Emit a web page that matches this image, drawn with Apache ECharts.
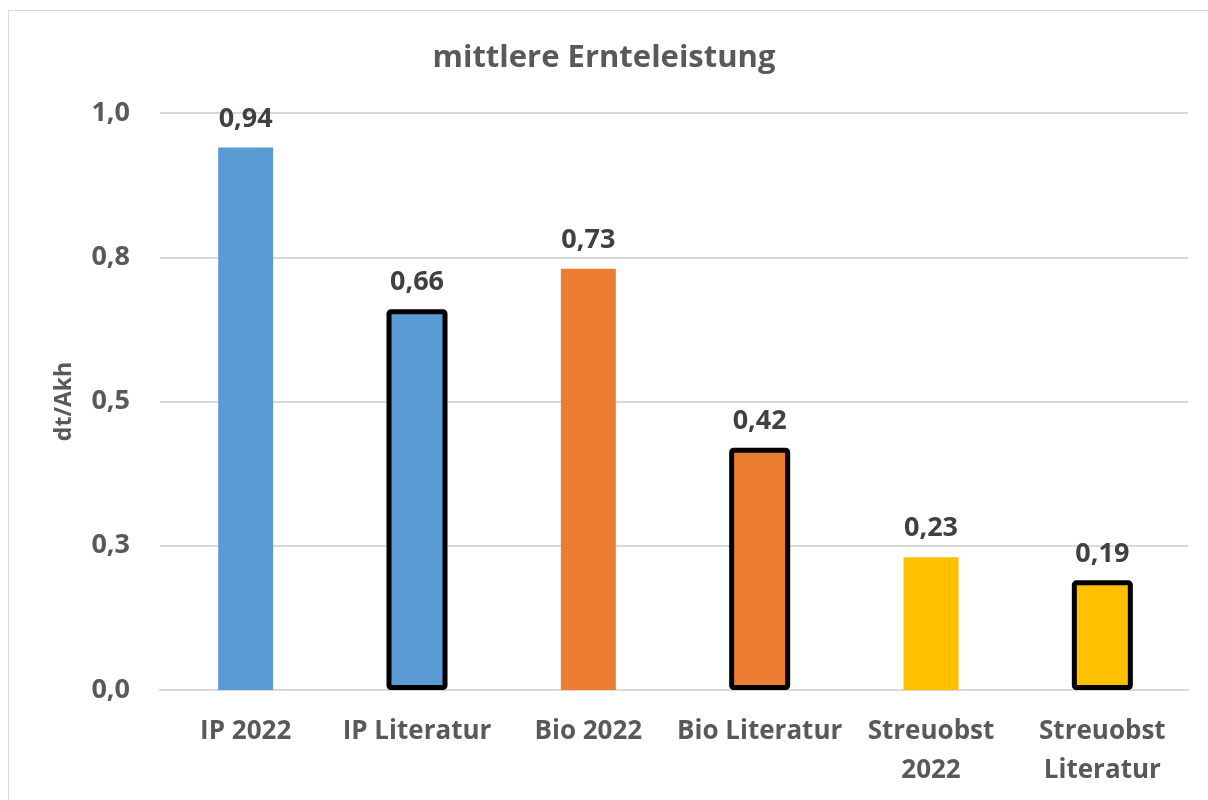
<!DOCTYPE html>
<html>
<head>
<meta charset="utf-8">
<script src="https://cdn.jsdelivr.net/npm/echarts@6/dist/echarts.min.js"></script>
<style>
  html, body { margin: 0; padding: 0; background: #fff; }
  #chart { width: 1208px; height: 800px; }
  #frame { position: absolute; left: 8px; top: 10px; width: 1220px; height: 820px; border: 1px solid #d9d9d9; pointer-events: none; }
</style>
</head>
<body>
<div id="frame"></div>
<div id="chart"></div>
<script>
// Daten
const categories = ['IP 2022', 'IP Literatur', 'Bio 2022', 'Bio Literatur', 'Streuobst\n2022', 'Streuobst\nLiteratur']
const values = [0.94, 0.66, 0.73, 0.42, 0.23, 0.19]
const barColors = ['#5b9bd5', '#5b9bd5', '#ed7d31', '#ed7d31', '#ffc000', '#ffc000']
const outlined = [false, true, false, true, false, true]

const font = '"Open Sans", "Liberation Sans", sans-serif'
const comma = v => String(v).replace('.', ',')

const chart = echarts.init(document.getElementById('chart'))

// gefüllte Balken ohne Rahmen / Literatur-Balken mit schwarzem Rahmen
const plainData = values.map((v, i) => outlined[i] ? '-' : { value: v, itemStyle: { color: barColors[i] } })
const frameData = values.map((v, i) => outlined[i] ? { value: v, itemStyle: { color: barColors[i] } } : '-')

const labelStyle = {
  show: true,
  position: 'top',
  fontFamily: font, fontSize: 27, fontWeight: 'bold', color: '#404040',
  formatter: p => comma(p.value)
}

const option = {
  animation: false,
  title: {
    text: 'mittlere Ernteleistung',
    left: 'center',
    top: 38,
    textStyle: { fontFamily: font, fontSize: 31, fontWeight: 'bold', color: '#595959' }
  },
  grid: { left: 160, right: 20, top: 113, bottom: 110 },
  xAxis: [{
    type: 'category',
    data: categories,
    axisTick: { show: false },
    axisLine: { lineStyle: { color: '#d9d9d9', width: 2 } },
    axisLabel: {
      interval: 0,
      margin: 22,
      fontFamily: font, fontSize: 26, fontWeight: 'bold', color: '#595959', lineHeight: 39
    }
  }, {
    type: 'category',
    data: categories,
    show: false
  }],
  yAxis: {
    type: 'value',
    min: 0,
    max: 1,
    interval: 0.25,
    name: 'dt/Akh',
    nameLocation: 'middle',
    nameGap: 84,
    nameTextStyle: { fontFamily: font, fontSize: 23, fontWeight: 'bold', color: '#595959' },
    axisLine: { show: false },
    axisTick: { show: false },
    splitLine: { lineStyle: { color: '#d9d9d9', width: 2 } },
    axisLabel: {
      margin: 30,
      fontFamily: font, fontSize: 27, fontWeight: 'bold', color: '#595959',
      formatter: v => comma(v.toFixed(1))
    }
  },
  series: [{
    type: 'bar',
    xAxisIndex: 0,
    data: plainData,
    barWidth: 55,
    label: Object.assign({ distance: 15 }, labelStyle)
  }, {
    type: 'bar',
    xAxisIndex: 1,
    data: frameData,
    barWidth: 61,
    itemStyle: { borderColor: '#000', borderWidth: 5, borderRadius: 2 },
    label: Object.assign({ distance: 13 }, labelStyle)
  }]
}

chart.setOption(option)
</script>
</body>
</html>
